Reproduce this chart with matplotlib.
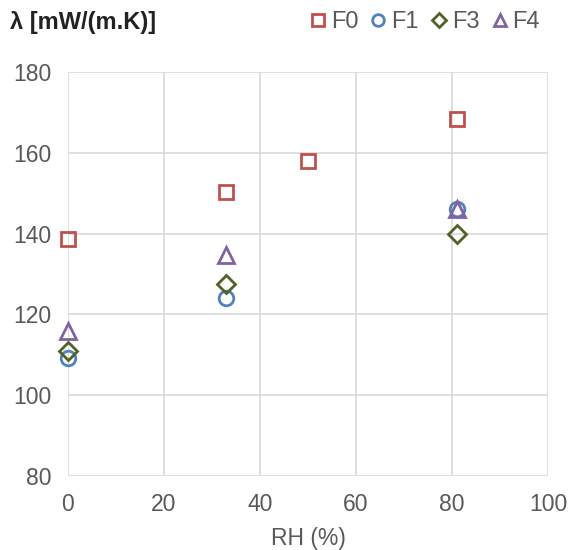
import matplotlib.pyplot as plt

plt.rcParams['font.family'] = ['Liberation Sans', 'DejaVu Sans']

# data
rh_f0 = [0, 33, 50, 81]
lam_f0 = [138.7, 150.4, 158.0, 168.3]
rh_f1 = [0, 33, 81]
lam_f1 = [109.2, 124.1, 146.0]
rh_f3 = [0, 33, 81]
lam_f3 = [111.0, 127.5, 140.0]
rh_f4 = [0, 33, 81]
lam_f4 = [115.8, 134.6, 146.0]

x_ticks = [0, 20, 40, 60, 80, 100]
y_ticks = [80, 100, 120, 140, 160, 180]

grey = '#595959'
series = [
    ('F0', rh_f0, lam_f0, 's', '#C0504D', 10.5),
    ('F1', rh_f1, lam_f1, 'o', '#4F81BD', 10.5),
    ('F3', rh_f3, lam_f3, 'D', '#4F6228', 9),
    ('F4', rh_f4, lam_f4, '^', '#8064A2', 11),
]

fig = plt.figure(figsize=(5.68, 5.5), dpi=100)
ax = fig.add_axes([68 / 568, 1 - 476 / 550, 480 / 568, 404 / 550])

for name, xs, ys, mk, col, ms in series:
    ax.plot(xs, ys, linestyle='none', marker=mk, markersize=ms,
            markerfacecolor='none', markeredgecolor=col, markeredgewidth=2,
            label=name, clip_on=False, zorder=3)

ax.set_xlim(0, 100)
ax.set_ylim(80, 180)
ax.set_xticks(x_ticks)
ax.set_yticks(y_ticks)
ax.grid(True, color='#d9d9d9', linewidth=1.2)
ax.set_axisbelow(True)
for s in ax.spines.values():
    s.set_visible(False)
ax.tick_params(length=0, labelsize=16.5, labelcolor=grey, pad=12)
ax.set_xlabel('RH (%)', fontsize=16.5, color=grey, labelpad=8)

fig.text(10 / 568, 1 - 22 / 550, 'λ [mW/(m.K)]', fontsize=17, fontweight='bold',
         color='#222222', va='center', ha='left')

fig.legend(loc='center right', bbox_to_anchor=(540 / 568, 1 - 22 / 550), ncol=4,
           frameon=False, fontsize=17, labelcolor=grey, handlelength=0.6,
           markerscale=0.8, handletextpad=0.25, columnspacing=0.55,
           borderaxespad=0, borderpad=0)

fig.savefig('out.png', dpi=100)
